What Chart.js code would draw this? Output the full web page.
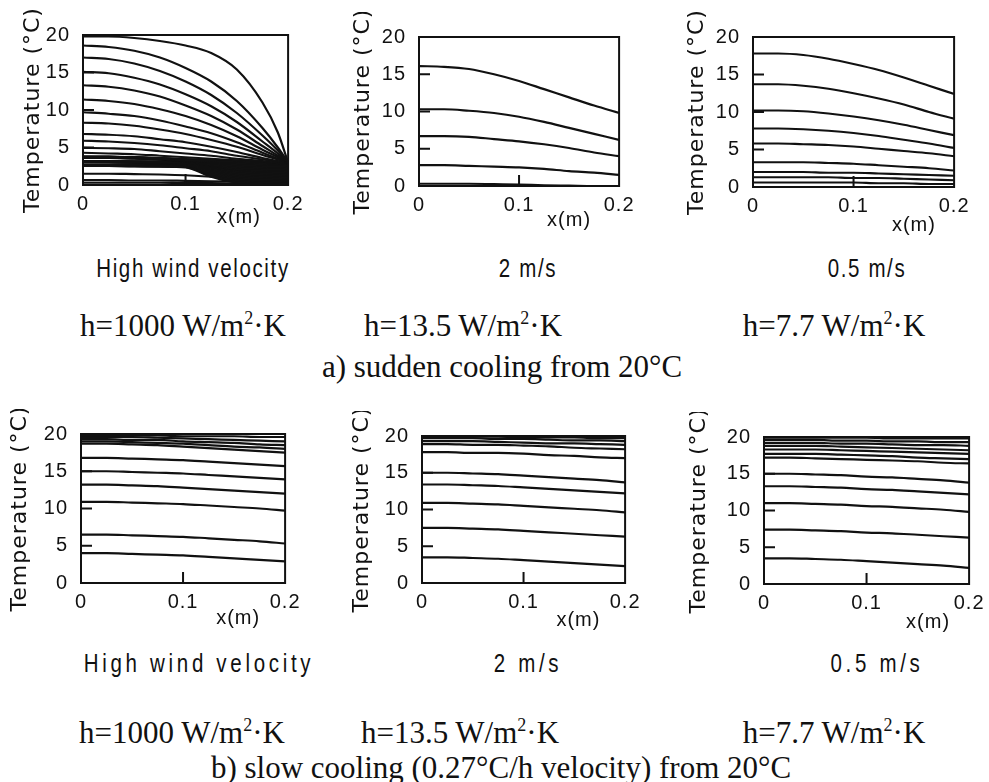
<!DOCTYPE html>
<html lang="en">
<head>
    <meta charset="UTF-8">
    <title>Temperature profiles</title>
    <style>
        body {
            margin: 0;
            background: #fff;
            width: 989px;
            height: 782px;
            position: relative;
            overflow: hidden;
        }
        canvas {
            position: absolute;
        }
        .cap {
            position: absolute;
            transform: translate(-50%, -50%);
            white-space: nowrap;
            color: #111;
            line-height: 1;
        }
        .tech {
            font-family: 'Liberation Sans', sans-serif;
            font-size: 25px;
            letter-spacing: 2px;
            transform: translate(-50%, -50%) scaleX(0.82);
        }
        .tech.wide {
            letter-spacing: 4.5px;
        }
        .serif {
            font-family: 'Liberation Serif', 'Times New Roman', serif;
            font-size: 31px;
        }
        .serif sup {
            font-size: 18px;
            vertical-align: 12px;
            line-height: 0;
        }
    </style>
</head>
<body>
    <canvas id="c1"></canvas>
    <canvas id="c2"></canvas>
    <canvas id="c3"></canvas>
    <canvas id="c4"></canvas>
    <canvas id="c5"></canvas>
    <canvas id="c6"></canvas>

    <div class="cap tech" style="left:193px;top:268px">High wind velocity</div>
    <div class="cap tech" style="left:528px;top:268px">2 m/s</div>
    <div class="cap tech" style="left:867px;top:268px">0.5 m/s</div>
    <div class="cap serif" style="left:183px;top:325px">h=1000 W/m<sup>2</sup>·K</div>
    <div class="cap serif" style="left:463px;top:325px">h=13.5 W/m<sup>2</sup>·K</div>
    <div class="cap serif" style="left:834px;top:325px">h=7.7 W/m<sup>2</sup>·K</div>
    <div class="cap serif" style="left:502px;top:366px">a) sudden cooling from 20°C</div>

    <div class="cap tech wide" style="left:199px;top:663px">High wind velocity</div>
    <div class="cap tech wide" style="left:528px;top:663px">2 m/s</div>
    <div class="cap tech wide" style="left:877px;top:663px">0.5 m/s</div>
    <div class="cap serif" style="left:182px;top:732px">h=1000 W/m<sup>2</sup>·K</div>
    <div class="cap serif" style="left:460px;top:732px">h=13.5 W/m<sup>2</sup>·K</div>
    <div class="cap serif" style="left:834px;top:732px">h=7.7 W/m<sup>2</sup>·K</div>
    <div class="cap serif" style="left:501px;top:767px">b) slow cooling (0.27°C/h velocity) from 20°C</div>

    <script src="https://cdn.jsdelivr.net/npm/chart.js"></script>
    <script>
        // x positions (m) where the profiles were read
        const xSudden = [0, 0.025, 0.05, 0.075, 0.1, 0.125, 0.15, 0.175, 0.19, 0.2];
        const xSlab = [0, 0.025, 0.05, 0.075, 0.1, 0.125, 0.15, 0.175, 0.2];

        const xTickValues = [0, 0.1, 0.2];
        const xTickLabels = ['0', '0.1', '0.2'];
        const yTickValues = [0, 5, 10, 15, 20];
        const innerYTicks = [5, 10, 15];
        const innerXTicks = [0.1];

        // a) sudden cooling, h = 1000: early profiles
        const suddenHigh = [
            [19.8, 19.8, 19.6, 19.2, 18.6, 17.6, 15.4, 11.0, 7.0, 3.0],
            [18.6, 18.4, 17.9, 17.0, 15.6, 13.8, 11.2, 7.6, 5.0, 3.0],
            [17.0, 16.8, 16.2, 15.2, 13.8, 12.0, 9.6, 6.6, 4.6, 3.0],
            [15.1, 14.9, 14.3, 13.4, 12.1, 10.5, 8.4, 5.8, 4.2, 3.0],
            [13.3, 13.1, 12.6, 11.8, 10.6, 9.2, 7.4, 5.2, 3.9, 3.0],
            [11.4, 11.2, 10.8, 10.1, 9.2, 8.0, 6.5, 4.7, 3.7, 3.0],
            [9.7, 9.5, 9.2, 8.6, 7.8, 6.9, 5.7, 4.3, 3.5, 3.0],
            [8.3, 8.2, 7.9, 7.4, 6.8, 6.0, 5.1, 4.0, 3.4, 2.95],
            [6.8, 6.7, 6.5, 6.1, 5.7, 5.1, 4.4, 3.6, 3.2, 2.95],
            [5.9, 5.8, 5.6, 5.3, 4.9, 4.5, 3.9, 3.4, 3.1, 2.95],
            [4.95, 4.9, 4.8, 4.5, 4.2, 3.9, 3.5, 3.2, 3.0, 2.9],
            [4.3, 4.2, 4.1, 3.9, 3.7, 3.5, 3.3, 3.1, 2.95, 2.9]
        ];

        // a) sudden cooling, h = 1000: late profiles that pile up into the dark wedge
        const suddenHighLate = [
            [3.7, 3.7, 3.65, 3.55, 3.4, 3.3, 3.2, 3.0, 2.95, 2.9],
            [3.7, 3.7, 3.65, 3.55, 3.35, 3.2, 3.0, 2.8, 2.75, 2.7],
            [3.7, 3.7, 3.65, 3.5, 3.3, 3.1, 2.8, 2.6, 2.55, 2.5],
            [3.7, 3.7, 3.6, 3.5, 3.25, 2.95, 2.6, 2.4, 2.35, 2.3],
            [3.7, 3.7, 3.6, 3.45, 3.2, 2.8, 2.4, 2.2, 2.15, 2.1],
            [3.7, 3.65, 3.6, 3.45, 3.15, 2.7, 2.2, 2.0, 1.95, 1.9],
            [3.1, 3.1, 3.1, 3.1, 3.05, 2.6, 2.1, 1.85, 1.75, 1.7],
            [3.1, 3.1, 3.1, 3.05, 3.0, 2.45, 1.9, 1.65, 1.55, 1.5],
            [3.1, 3.1, 3.05, 3.0, 2.9, 2.3, 1.7, 1.45, 1.35, 1.3],
            [3.1, 3.1, 3.05, 3.0, 2.8, 2.15, 1.5, 1.25, 1.15, 1.1],
            [3.1, 3.05, 3.0, 2.95, 2.7, 2.0, 1.3, 1.05, 0.95, 0.9],
            [2.6, 2.6, 2.6, 2.6, 2.6, 1.8, 1.1, 0.85, 0.75, 0.7],
            [2.6, 2.6, 2.6, 2.6, 2.55, 1.6, 0.9, 0.65, 0.55, 0.5],
            [2.6, 2.6, 2.6, 2.55, 2.5, 1.45, 0.7, 0.45, 0.35, 0.3],
            [2.6, 2.6, 2.55, 2.55, 2.45, 1.3, 0.5, 0.25, 0.18, 0.15],
            [2.6, 2.6, 2.55, 2.5, 2.4, 1.15, 0.35, 0.1, 0.02, 0.0]
        ];

        // a) sudden cooling, h = 1000: lowest profiles near the bottom
        const suddenHighLow = [
            [1.5, 1.5, 1.45, 1.4, 1.3, 1.1, 0.8, 0.6, 0.5, 0.45],
            [0.65, 0.65, 0.6, 0.6, 0.55, 0.5, 0.45, 0.4, 0.35, 0.3],
            [0.3, 0.3, 0.3, 0.3, 0.25, 0.25, 0.2, 0.2, 0.15, 0.1]
        ];

        // a) sudden cooling, 2 m/s
        const sudden2 = [
            [16.1, 16.0, 15.7, 15.0, 14.1, 13.0, 11.9, 10.8, 9.8],
            [10.3, 10.3, 10.1, 9.8, 9.3, 8.6, 7.8, 7.0, 6.2],
            [6.7, 6.7, 6.6, 6.3, 6.0, 5.6, 5.1, 4.5, 4.0],
            [2.8, 2.8, 2.7, 2.6, 2.5, 2.3, 2.0, 1.8, 1.5],
            [0.3, 0.3, 0.3, 0.25, 0.2, 0.1, 0.05, 0.0, 0.0]
        ];

        // a) sudden cooling, 0.5 m/s
        const sudden05 = [
            [17.8, 17.8, 17.6, 17.1, 16.4, 15.6, 14.6, 13.5, 12.4],
            [13.7, 13.7, 13.5, 13.1, 12.5, 11.8, 11.0, 10.0, 9.1],
            [10.2, 10.2, 10.1, 9.8, 9.4, 8.9, 8.3, 7.6, 6.9],
            [7.8, 7.8, 7.7, 7.5, 7.2, 6.8, 6.3, 5.8, 5.2],
            [5.8, 5.8, 5.7, 5.6, 5.4, 5.1, 4.8, 4.5, 4.1],
            [3.3, 3.3, 3.3, 3.2, 3.1, 2.9, 2.7, 2.5, 2.2],
            [2.0, 2.0, 2.0, 1.9, 1.9, 1.8, 1.7, 1.6, 1.5],
            [1.3, 1.3, 1.3, 1.3, 1.2, 1.2, 1.1, 1.0, 0.9],
            [0.6, 0.6, 0.6, 0.6, 0.6, 0.5, 0.5, 0.4, 0.4]
        ];

        // b) slow cooling, h = 1000
        const slowHigh = [
            [19.8, 19.8, 19.8, 19.8, 19.7, 19.7, 19.7, 19.6, 19.6],
            [19.6, 19.6, 19.6, 19.5, 19.4, 19.3, 19.2, 19.1, 19.0],
            [19.3, 19.3, 19.2, 19.2, 19.0, 18.9, 18.8, 18.6, 18.5],
            [19.0, 19.0, 18.9, 18.8, 18.7, 18.5, 18.3, 18.2, 18.0],
            [18.7, 18.7, 18.6, 18.5, 18.3, 18.1, 17.9, 17.7, 17.5],
            [16.8, 16.8, 16.7, 16.6, 16.5, 16.3, 16.1, 15.9, 15.7],
            [15.0, 15.0, 14.9, 14.8, 14.7, 14.5, 14.3, 14.1, 13.9],
            [13.2, 13.2, 13.1, 13.0, 12.8, 12.6, 12.4, 12.2, 12.0],
            [10.9, 10.9, 10.8, 10.7, 10.6, 10.4, 10.2, 10.0, 9.7],
            [6.5, 6.5, 6.4, 6.3, 6.2, 6.0, 5.8, 5.6, 5.3],
            [4.0, 4.0, 3.9, 3.8, 3.7, 3.5, 3.3, 3.1, 2.9]
        ];

        // b) slow cooling, 2 m/s
        const slow2 = [
            [19.9, 19.9, 19.9, 19.9, 19.8, 19.8, 19.8, 19.7, 19.7],
            [19.7, 19.7, 19.7, 19.6, 19.6, 19.5, 19.4, 19.4, 19.3],
            [19.3, 19.3, 19.3, 19.2, 19.1, 19.0, 19.0, 18.9, 18.8],
            [18.9, 18.9, 18.8, 18.8, 18.7, 18.6, 18.4, 18.3, 18.2],
            [17.8, 17.8, 17.7, 17.7, 17.6, 17.4, 17.3, 17.1, 17.0],
            [15.0, 15.0, 14.9, 14.8, 14.6, 14.4, 14.2, 14.0, 13.7],
            [13.4, 13.4, 13.3, 13.2, 13.0, 12.8, 12.6, 12.4, 12.2],
            [10.9, 10.9, 10.8, 10.7, 10.5, 10.3, 10.1, 9.9, 9.6],
            [7.5, 7.5, 7.4, 7.3, 7.1, 6.9, 6.7, 6.5, 6.3],
            [3.5, 3.5, 3.4, 3.3, 3.1, 2.9, 2.7, 2.5, 2.3]
        ];

        // b) slow cooling, 0.5 m/s
        const slow05 = [
            [19.9, 19.9, 19.9, 19.9, 19.9, 19.8, 19.8, 19.8, 19.8],
            [19.6, 19.6, 19.6, 19.5, 19.5, 19.4, 19.4, 19.3, 19.3],
            [19.2, 19.2, 19.2, 19.1, 19.1, 19.0, 18.9, 18.9, 18.8],
            [18.8, 18.8, 18.8, 18.7, 18.6, 18.5, 18.4, 18.3, 18.2],
            [18.3, 18.3, 18.3, 18.2, 18.1, 18.0, 17.9, 17.8, 17.7],
            [17.7, 17.7, 17.7, 17.6, 17.5, 17.4, 17.2, 17.1, 17.0],
            [17.2, 17.2, 17.1, 17.0, 16.9, 16.8, 16.7, 16.5, 16.4],
            [15.0, 15.0, 14.9, 14.8, 14.6, 14.5, 14.3, 14.1, 13.8],
            [13.3, 13.3, 13.2, 13.1, 12.9, 12.8, 12.6, 12.4, 12.2],
            [11.0, 11.0, 10.9, 10.8, 10.6, 10.5, 10.3, 10.1, 9.8],
            [7.4, 7.4, 7.3, 7.2, 7.0, 6.9, 6.7, 6.5, 6.3],
            [3.5, 3.5, 3.4, 3.3, 3.1, 2.9, 2.7, 2.5, 2.2]
        ];

        const INK = '#111';
        const tickFont = { family: "'Liberation Sans', sans-serif", size: 20 };
        const titleFont = { family: "'DejaVu Sans', sans-serif", size: 22 };
        const Y_W = 80, X_H = 60, PAD_T = 20, PAD_R = 20;

        // plot boxes: left, top, right, bottom
        // groups: [curves, line width]
        const panels = [
            { id: 'c1', box: [83, 30, 289, 185], xs: xSudden, groups: [[suddenHigh, 2.2], [suddenHighLate, 3], [suddenHighLow, 2.2]], titleOff: 50, xtFrac: 0.76, xtDy: 32 },
            { id: 'c2', box: [419, 32, 620, 186], xs: xSlab, groups: [[sudden2, 2.2]], titleOff: 56, xtFrac: 0.75, xtDy: 34 },
            { id: 'c3', box: [753, 32, 955, 187], xs: xSlab, groups: [[sudden05, 2.2]], titleOff: 56, xtFrac: 0.80, xtDy: 38 },
            { id: 'c4', box: [81, 429, 286, 583], xs: xSlab, groups: [[slowHigh, 2.2]], titleOff: 61, xtFrac: 0.77, xtDy: 35 },
            { id: 'c5', box: [422, 431, 626, 583], xs: xSlab, groups: [[slow2, 2.2]], titleOff: 60, xtFrac: 0.77, xtDy: 37 },
            { id: 'c6', box: [764, 432, 970, 584], xs: xSlab, groups: [[slow05, 2.2]], titleOff: 65, xtFrac: 0.80, xtDy: 38 }
        ];

        // plotter-like lettering is widely spaced
        const spacingPlugin = {
            id: 'spacing',
            beforeDraw(chart) {
                chart.ctx.letterSpacing = '1px';
            }
        };

        // frame round the plot, short inward ticks and the x(m) label
        const framePlugin = {
            id: 'frame',
            afterDatasetsDraw(chart, args, opts) {
                const { ctx, chartArea: a, scales: { x, y } } = chart;
                ctx.save();
                ctx.strokeStyle = INK;
                ctx.lineWidth = 2;
                ctx.strokeRect(a.left, a.top, a.right - a.left, a.bottom - a.top);
                ctx.beginPath();
                innerYTicks.forEach(v => {
                    const py = y.getPixelForValue(v);
                    ctx.moveTo(a.left, py);
                    ctx.lineTo(a.left + 11, py);
                });
                innerXTicks.forEach(v => {
                    const px = x.getPixelForValue(v);
                    ctx.moveTo(px, a.bottom);
                    ctx.lineTo(px, a.bottom - 11);
                });
                ctx.stroke();
                ctx.fillStyle = INK;
                ctx.font = `${tickFont.size}px ${tickFont.family}`;
                ctx.textAlign = 'center';
                ctx.textBaseline = 'middle';
                ctx.fillText('x(m)', a.left + opts.frac * (a.right - a.left), a.bottom + opts.dy);
                ctx.restore();
            }
        };

        panels.forEach(p => {
            const [L, T, R, B] = p.box;
            const cv = document.getElementById(p.id);
            cv.width = R - L + Y_W + PAD_R;
            cv.height = B - T + PAD_T + X_H;
            cv.style.left = (L - Y_W) + 'px';
            cv.style.top = (T - PAD_T) + 'px';

            const datasets = [];
            p.groups.forEach(([curves, width]) => {
                curves.forEach(c => datasets.push({
                    data: p.xs.map((xv, i) => ({ x: xv, y: c[i] })),
                    borderColor: INK,
                    borderWidth: width,
                    pointRadius: 0,
                    cubicInterpolationMode: 'monotone',
                    fill: false
                }));
            });

            new Chart(cv, {
                type: 'line',
                data: { datasets },
                plugins: [spacingPlugin, framePlugin],
                options: {
                    responsive: false,
                    animation: false,
                    devicePixelRatio: 1,
                    layout: { padding: { top: PAD_T, right: PAD_R, left: 0, bottom: 0 } },
                    plugins: {
                        legend: { display: false },
                        tooltip: { enabled: false },
                        frame: { frac: p.xtFrac, dy: p.xtDy }
                    },
                    scales: {
                        x: {
                            type: 'linear',
                            min: 0,
                            max: 0.2,
                            afterBuildTicks: s => { s.ticks = xTickValues.map(v => ({ value: v })); },
                            afterFit: s => { s.height = X_H; },
                            grid: { display: false, drawTicks: false },
                            border: { display: false },
                            ticks: {
                                color: INK,
                                font: tickFont,
                                padding: 7,
                                maxRotation: 0,
                                callback: v => xTickLabels[xTickValues.indexOf(v)]
                            }
                        },
                        y: {
                            min: 0,
                            max: 20,
                            afterBuildTicks: s => { s.ticks = yTickValues.map(v => ({ value: v })); },
                            afterFit: s => { s.width = Y_W; },
                            grid: { display: false, drawTicks: false },
                            border: { display: false },
                            ticks: { color: INK, font: tickFont, padding: 13 },
                            title: {
                                display: true,
                                text: 'Temperature (°C)',
                                color: INK,
                                font: titleFont,
                                padding: { top: Y_W - p.titleOff - titleFont.size * 0.6, bottom: 0 }
                            }
                        }
                    }
                }
            });
        });
    </script>
</body>
</html>
